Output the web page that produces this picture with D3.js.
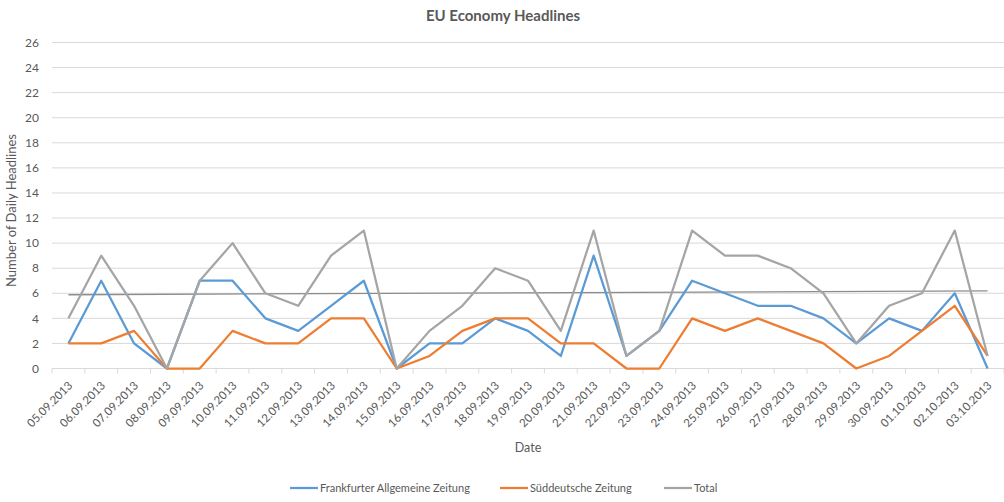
<!DOCTYPE html>
<html>
<head>
<meta charset="utf-8">
<script src="https://cdn.jsdelivr.net/npm/d3@7"></script>
<style>
  body { margin: 0; background: #fff; }
  svg { display: block; font-family: Lato, "Open Sans", "Liberation Sans", sans-serif; }
</style>
</head>
<body>
<svg id="chart" width="1004" height="502"></svg>
<script>
const dates = ["05.09.2013","06.09.2013","07.09.2013","08.09.2013","09.09.2013","10.09.2013",
  "11.09.2013","12.09.2013","13.09.2013","14.09.2013","15.09.2013","16.09.2013","17.09.2013",
  "18.09.2013","19.09.2013","20.09.2013","21.09.2013","22.09.2013","23.09.2013","24.09.2013",
  "25.09.2013","26.09.2013","27.09.2013","28.09.2013","29.09.2013","30.09.2013","01.10.2013",
  "02.10.2013","03.10.2013"];
const faz   = [2,7,2,0,7,7,4,3,5,7,0,2,2,4,3,1,9,1,3,7,6,5,5,4,2,4,3,6,0];
const sz    = [2,2,3,0,0,3,2,2,4,4,0,1,3,4,4,2,2,0,0,4,3,4,3,2,0,1,3,5,1];
const total = [4,9,5,0,7,10,6,5,9,11,0,3,5,8,7,3,11,1,3,11,9,9,8,6,2,5,6,11,1];
const yTicks = [0,2,4,6,8,10,12,14,16,18,20,22,24,26];

const seriesNames = ["Frankfurter Allgemeine Zeitung", "Süddeutsche Zeitung", "Total"];
const colors = ["#5b9bd5", "#ed7d31", "#a5a5a5"];

const svg = d3.select("#chart");
const margin = { left: 52, right: 0, top: 42.5, bottom: 133.5 };
const W = 1004, H = 502;

const x = d3.scaleBand().domain(dates).range([margin.left, W - margin.right]);
const y = d3.scaleLinear().domain([0, 26]).range([H - margin.bottom, margin.top]);
const cx = d => x(d) + x.bandwidth() / 2;

// gridlines
svg.append("g")
  .selectAll("line").data(yTicks.filter(v => v > 0)).join("line")
  .attr("x1", margin.left).attr("x2", W - margin.right)
  .attr("y1", d => y(d)).attr("y2", d => y(d))
  .attr("stroke", "#d9d9d9").attr("stroke-width", 1);

// y tick labels
svg.append("g")
  .selectAll("text").data(yTicks).join("text")
  .attr("x", 39).attr("y", d => y(d)).attr("dy", "0.35em")
  .attr("text-anchor", "end").attr("fill", "#595959").attr("font-size", 12)
  .text(d => d);

// x axis line and ticks at category boundaries
const xAxis = svg.append("g");
xAxis.append("line")
  .attr("x1", margin.left).attr("x2", W - margin.right)
  .attr("y1", y(0)).attr("y2", y(0))
  .attr("stroke", "#d9d9d9");
xAxis.selectAll("line.tick").data(dates.concat([null])).join("line")
  .attr("class", "tick")
  .attr("x1", (d, i) => margin.left + i * x.step())
  .attr("x2", (d, i) => margin.left + i * x.step())
  .attr("y1", y(0)).attr("y2", y(0) + 5)
  .attr("stroke", "#d9d9d9");

// rotated date labels
xAxis.selectAll("text").data(dates).join("text")
  .attr("transform", d => `translate(${cx(d) + 2},${y(0) + 15}) rotate(-45)`)
  .attr("text-anchor", "end").attr("dy", "0.35em")
  .attr("fill", "#595959").attr("font-size", 11.5)
  .text(d => d);

// axis titles
svg.append("text")
  .attr("transform", `translate(16,${(y(0) + y(26)) / 2 + 5}) rotate(-90)`)
  .attr("text-anchor", "middle").attr("fill", "#595959").attr("font-size", 13)
  .text("Number of Daily Headlines");
svg.append("text")
  .attr("x", 528).attr("y", 452).attr("text-anchor", "middle")
  .attr("fill", "#595959").attr("font-size", 12.5).text("Date");

// chart title
svg.append("text")
  .attr("x", 503).attr("y", 21).attr("text-anchor", "middle")
  .attr("fill", "#595959").attr("font-size", 15).attr("font-weight", "bold")
  .text("EU Economy Headlines");

// linear trend of the total series
const xs = dates.map((d, i) => i);
const mx = d3.mean(xs), my = d3.mean(total);
const slope = d3.sum(xs, i => (i - mx) * (total[i] - my)) / d3.sum(xs, i => (i - mx) ** 2);
const intercept = my - slope * mx;
svg.append("line")
  .attr("x1", cx(dates[0])).attr("y1", y(intercept))
  .attr("x2", cx(dates[dates.length - 1])).attr("y2", y(intercept + slope * (dates.length - 1)))
  .attr("stroke", "#8c8c8c").attr("stroke-width", 1.3);

// series lines
const line = d3.line().x((v, i) => cx(dates[i])).y(v => y(v));
[faz, sz, total].forEach((vals, k) => {
  svg.append("path").datum(vals)
    .attr("d", line).attr("fill", "none")
    .attr("stroke", colors[k]).attr("stroke-width", 2.25)
    .attr("stroke-linejoin", "round");
});

// legend
const legendItems = [
  { x: 290, name: seriesNames[0], color: colors[0] },
  { x: 500, name: seriesNames[1], color: colors[1] },
  { x: 664, name: seriesNames[2], color: colors[2] }
];
const lg = svg.append("g");
legendItems.forEach(it => {
  lg.append("line").attr("x1", it.x).attr("x2", it.x + 28)
    .attr("y1", 488).attr("y2", 488)
    .attr("stroke", it.color).attr("stroke-width", 2.25);
  lg.append("text").attr("x", it.x + 30).attr("y", 488).attr("dy", "0.35em")
    .attr("fill", "#595959").attr("font-size", 11).text(it.name);
});
</script>
</body>
</html>
